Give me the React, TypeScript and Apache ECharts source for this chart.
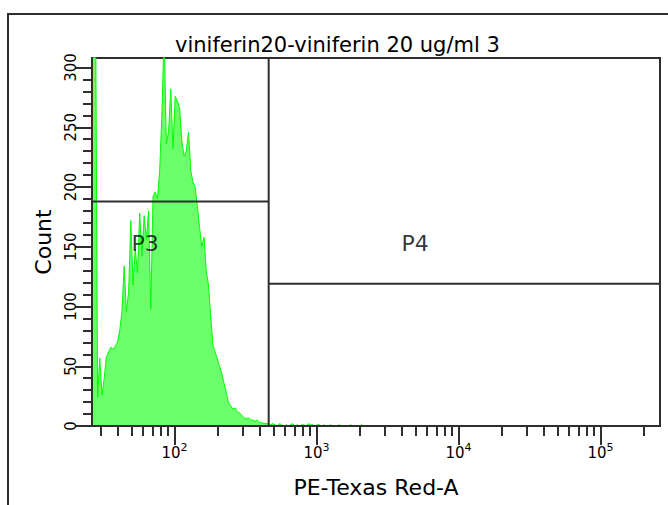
import React, { useEffect, useRef } from 'react';
import * as echarts from 'echarts';

// ---- chart texts ----
const TITLE = 'viniferin20-viniferin 20 ug/ml 3';
const X_NAME = 'PE-Texas Red-A';
const Y_NAME = 'Count';

// ---- axis ranges ----
const X_MIN = 26.2144;
const X_MAX = 262144;
const BIN_COUNT = 256; // histogram bins spread evenly (in log) over the axis
const Y_MAX = 308;

// ---- histogram counts, bin 0 starts at X_MIN ----
const counts = [
  420, 400, 24, 57, 26, 40, 58, 62, 66, 64,
  67, 70, 80, 96, 134, 96, 112, 172, 118, 148,
  128, 178, 142, 176, 156, 180, 98, 192, 196, 190,
  214, 260, 330, 236, 246, 282, 232, 276, 272, 266,
  238, 226, 230, 246, 214, 204, 200, 184, 166, 150,
  158, 130, 118, 92, 68, 62, 56, 50, 44, 36,
  28, 20, 17, 14, 15, 12, 11, 9, 7, 6,
  7, 5, 5, 4, 5, 3, 3, 2, 2, 2,
  1, 2, 1, 0, 2, 1, 0, 1, 0, 1,
  2, 0, 1, 0, 1, 1, 0, 2, 1, 1,
  0, 1, 1, 0, 1, 0, 0, 1, 0, 0,
  0, 1, 0, 0, 0, 0, 1, 0, 0, 0,
  0, 1, 0,
];

// ---- ticks ----
const yMajorTicks = [0, 50, 100, 150, 200, 250, 300];
const yMinorTicks = [
  10, 20, 30, 40, 60, 70, 80, 90, 110, 120, 130, 140, 160, 170, 180, 190,
  210, 220, 230, 240, 260, 270, 280, 290,
];
const xMajorTicks = [100, 1000, 10000, 100000];
const xMinorTicks = [
  30, 40, 50, 60, 70, 80, 90,
  200, 300, 400, 500, 600, 700, 800, 900,
  2000, 3000, 4000, 5000, 6000, 7000, 8000, 9000,
  20000, 30000, 40000, 50000, 60000, 70000, 80000, 90000,
  200000,
];

// ---- gates ----
const gateBoundary = 460;
const p3Level = 188;
const p4Level = 119;
const gateLabels = [
  { name: 'P3', x: 62, y: 153 },
  { name: 'P4', x: 4950, y: 153 },
];

const FONT = 'DejaVu Sans';
const DARK = '#2e2e2e';

export default function App() {
  const ref = useRef<HTMLDivElement>(null);

  useEffect(() => {
    if (!ref.current) return;
    const chart = echarts.init(ref.current, undefined, { renderer: 'svg' });
    const lg = Math.log10;
    const lMin = lg(X_MIN);
    const lMax = lg(X_MAX);
    const binW = (lMax - lMin) / BIN_COUNT;
    const hist: number[][] = [[lMin, counts[0]]];
    counts.forEach((c, i) => hist.push([lMin + (i + 0.5) * binW, c]));

    const tickStyle = { color: DARK, width: 2 };
    const baseX = {
      type: 'value',
      min: lMin,
      max: lMax,
      position: 'bottom',
      z: 10,
      splitLine: { show: false },
    };
    const baseY = {
      type: 'value',
      min: 0,
      max: Y_MAX,
      position: 'left',
      z: 10,
      splitLine: { show: false },
    };

    chart.setOption({
      animation: false,
      backgroundColor: '#ffffff',
      title: {
        text: TITLE,
        left: 175,
        top: 34,
        padding: 0,
        textStyle: { fontFamily: FONT, fontSize: 21, fontWeight: 'normal', color: '#000' },
      },
      grid: {
        left: 92,
        top: 58,
        right: 8,
        bottom: 79,
        show: true,
        borderColor: DARK,
        borderWidth: 2,
        backgroundColor: 'transparent',
      },
      graphic: [
        {
          type: 'rect',
          shape: { x: 8, y: 14, width: 800, height: 700 },
          style: { fill: 'none', stroke: DARK, lineWidth: 2 },
          silent: true,
        },
      ],
      xAxis: [
        {
          ...baseX,
          name: X_NAME,
          nameLocation: 'middle',
          nameGap: 50,
          nameTextStyle: { fontFamily: FONT, fontSize: 22, color: '#000' },
          axisLine: { show: true, lineStyle: tickStyle },
          axisTick: { show: true, customValues: xMajorTicks.map(lg), length: 19, lineStyle: tickStyle },
          axisLabel: {
            show: true,
            customValues: xMajorTicks.map(lg),
            margin: 16,
            formatter: (v: number) => `{b|10}{s|${Math.round(v)}}`,
            rich: {
              b: { fontFamily: FONT, fontSize: 15, color: '#000', lineHeight: 18, verticalAlign: 'bottom' },
              s: { fontFamily: FONT, fontSize: 11, color: '#000', lineHeight: 18, verticalAlign: 'top' },
            },
          },
        },
        {
          ...baseX,
          axisLine: { show: false },
          axisTick: { show: true, customValues: xMinorTicks.map(lg), length: 10, lineStyle: tickStyle },
          axisLabel: { show: false },
        },
      ],
      yAxis: [
        {
          ...baseY,
          name: Y_NAME,
          nameLocation: 'middle',
          nameGap: 38,
          nameTextStyle: { fontFamily: FONT, fontSize: 22, color: '#000' },
          axisLine: { show: true, lineStyle: tickStyle },
          axisTick: { show: true, customValues: yMajorTicks, length: 17, lineStyle: tickStyle },
          axisLabel: {
            show: true,
            customValues: yMajorTicks,
            rotate: 90,
            margin: 14,
            fontFamily: FONT,
            fontSize: 15,
            color: '#000',
          },
        },
        {
          ...baseY,
          axisLine: { show: false },
          axisTick: { show: true, customValues: yMinorTicks, length: 9, lineStyle: tickStyle },
          axisLabel: { show: false },
        },
      ],
      series: [
        {
          name: 'histogram',
          type: 'line',
          data: hist,
          symbol: 'none',
          clip: true,
          z: 2,
          lineStyle: { color: '#00ff00', width: 1 },
          areaStyle: { color: '#6cff6c', opacity: 1 },
        },
        {
          name: 'P3 gate',
          type: 'line',
          data: [[lMin, p3Level], [lg(gateBoundary), p3Level]],
          symbol: 'none',
          z: 4,
          lineStyle: { color: DARK, width: 2 },
        },
        {
          name: 'gate boundary',
          type: 'line',
          data: [[lg(gateBoundary), 0], [lg(gateBoundary), Y_MAX]],
          symbol: 'none',
          z: 4,
          lineStyle: { color: DARK, width: 2 },
        },
        {
          name: 'P4 gate',
          type: 'line',
          data: [[lg(gateBoundary), p4Level], [lMax, p4Level]],
          symbol: 'none',
          z: 4,
          lineStyle: { color: DARK, width: 2 },
        },
        {
          name: 'gate labels',
          type: 'scatter',
          z: 5,
          symbolSize: 1,
          itemStyle: { color: 'rgba(0,0,0,0)' },
          data: gateLabels.map((g) => ({ name: g.name, value: [lg(g.x), g.y] })),
          label: {
            show: true,
            position: 'inside',
            formatter: (p: any) => p.name,
            fontFamily: FONT,
            fontSize: 22,
            color: '#000',
          },
        },
      ],
    });
    return () => chart.dispose();
  }, []);

  return (
    <div
      ref={ref}
      style={{ position: 'fixed', left: 0, top: 0, width: 668, height: 505, background: '#fff' }}
    />
  );
}
